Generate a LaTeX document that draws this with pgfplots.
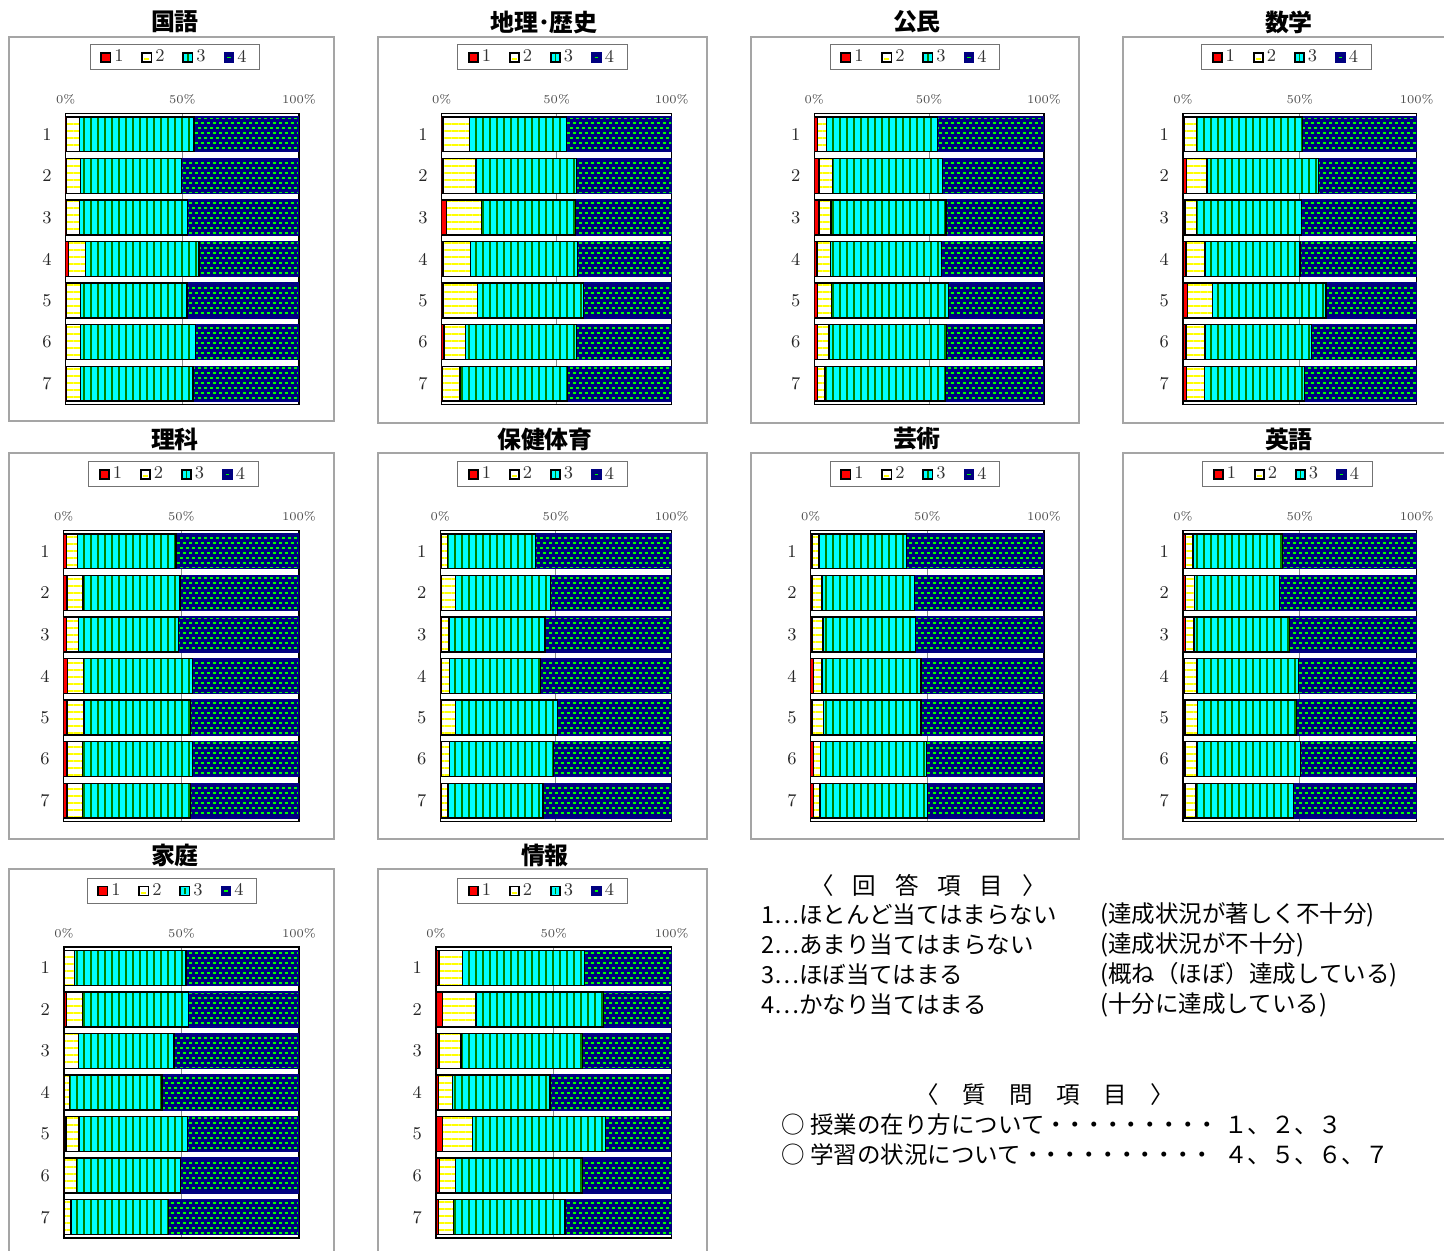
\documentclass[border=0pt]{standalone}
\usepackage{fontspec}
\usepackage{pgfplots}
\pgfplotsset{compat=1.18}
\usepackage{pgfplotstable}
\usetikzlibrary{patterns,patterns.meta}
\newfontfamily\cjk{Noto Sans CJK JP}
\definecolor{navy}{RGB}{0,0,128}
\definecolor{lgreen}{RGB}{0,255,0}
\definecolor{dgreen}{RGB}{0,128,0}
\definecolor{cyanc}{RGB}{0,255,255}
\definecolor{yel}{RGB}{255,255,0}
\definecolor{redc}{RGB}{255,0,0}
\definecolor{framec}{RGB}{165,165,165}

\pgfdeclarepatternformonly{navydash}{\pgfqpoint{-0.5bp}{-0.5bp}}{\pgfqpoint{3.5bp}{5.5bp}}{\pgfqpoint{3bp}{5bp}}{%
  \pgfsetlinewidth{1bp}%
  \pgfpathmoveto{\pgfqpoint{0bp}{1.25bp}}\pgfpathlineto{\pgfqpoint{1.5bp}{1.25bp}}%
  \pgfpathmoveto{\pgfqpoint{1.5bp}{3.75bp}}\pgfpathlineto{\pgfqpoint{3bp}{3.75bp}}%
  \pgfusepath{stroke}}

\newcommand\dt{・\hspace{-.2em}}

\pgfplotsset{
  s1/.style={fill=redc, draw=black, line width=0.7bp},
  s2/.style={preaction={fill=white}, pattern={Lines[angle=0,distance=3.5bp,line width=0.6bp]}, pattern color=yel, draw=black, line width=0.7bp},
  s3/.style={preaction={fill=cyanc}, pattern={Lines[angle=90,distance=3.5bp,line width=0.55bp]}, pattern color=dgreen, draw=black, line width=0.7bp},
  s4/.style={preaction={fill=navy}, pattern=navydash, pattern color=lgreen, draw=navy, line width=0.7bp},
  leg1/.style={legend image code/.code={\draw[fill=redc,draw=black,line width=0.8bp] (0bp,-2.3bp) rectangle (4.6bp,2.3bp);}},
  leg2/.style={legend image code/.code={\draw[fill=white,draw=black,line width=0.8bp] (0bp,-2.3bp) rectangle (4.6bp,2.3bp);\draw[yel,line width=0.8bp] (1bp,-0.9bp) -- (3.6bp,-0.9bp);}},
  leg3/.style={legend image code/.code={\draw[fill=cyanc,draw=black,line width=0.8bp] (0bp,-2.3bp) rectangle (4.6bp,2.3bp);\draw[dgreen,line width=0.8bp] (2.3bp,-1.6bp) -- (2.3bp,1.6bp);}},
  leg4/.style={legend image code/.code={\draw[fill=navy,draw=navy,line width=0.8bp] (0bp,-2.3bp) rectangle (4.6bp,2.3bp);\draw[lgreen,line width=0.8bp] (1.4bp,0bp) -- (3.2bp,0bp);}},
  pan/.style={
    scale only axis, xbar stacked, bar width=0.84,
    xmin=0, xmax=100, ymin=0.5, ymax=7.5,
    xtick={0,50,100}, xticklabels={0\%,50\%,100\%}, xticklabel pos=upper,
    ytick={1,2,3,4,5,6,7}, yticklabels={7,6,5,4,3,2,1},
    major tick length=0pt,
    xmajorgrids, major grid style={black!45, line width=0.5bp},
    axis line style={black, line width=0.6bp},
    x tick label style={font=\fontsize{6}{7}\selectfont, text=black!70, yshift=1bp},
    y tick label style={font=\fontsize{9}{10}\selectfont, text=black!85, xshift=-3.5bp},
    legend columns=4,
    legend style={draw=black!55, line width=0.5bp, font=\fontsize{9}{10}\selectfont, anchor=south,
      inner xsep=5bp, inner ysep=1bp, nodes={inner sep=1.5bp, text=black!80},
      /tikz/every even column/.append style={column sep=7.5bp}},
  },
}

% columns: p = position (7 = question 1), r = 1, w = 2, c = 3, n = 4 (percent)
\pgfplotstableread{
p r w c n
7 0.3 5.6 49.1 45.0
6 0.3 6.1 43.3 50.3
5 0.3 5.6 46.4 47.7
4 1.1 7.3 48.7 42.9
3 0.3 6.0 45.7 48.0
2 0.3 6.0 49.4 44.3
1 0.3 6.0 48.3 45.4
}\tKokugo
\pgfplotstableread{
p r w c n
7 0.5 11.5 42.3 45.7
6 0.5 14.4 43.8 41.3
5 2.2 15.2 40.7 41.9
4 0.5 12.1 46.5 40.9
3 0.5 15.0 46.1 38.4
2 1.0 9.3 48.4 41.3
1 0.3 7.7 46.6 45.4
}\tChireki
\pgfplotstableread{
p r w c n
7 1.5 3.9 48.2 46.4
6 2.0 6.0 47.9 44.1
5 2.0 5.3 50.0 42.7
4 1.2 5.8 48.3 44.7
3 1.3 6.2 51.0 41.5
2 1.3 5.1 51.2 42.4
1 1.3 3.3 52.6 42.8
}\tKomin
\pgfplotstableread{
p r w c n
7 0.5 5.3 45.4 48.8
6 1.6 8.7 47.8 41.9
5 0.8 4.9 45.1 49.2
4 1.3 8.1 40.7 49.9
3 1.9 10.8 48.5 38.8
2 1.3 8.1 45.5 45.1
1 1.6 7.5 42.8 48.1
}\tSugaku
\pgfplotstableread{
p r w c n
7 1.1 4.7 41.9 52.3
6 1.4 6.8 41.2 50.6
5 1.3 4.9 42.5 51.3
4 1.6 6.9 46.2 45.3
3 1.4 7.2 45.2 46.2
2 1.4 6.5 46.9 45.2
1 1.4 6.5 46.1 46.0
}\tRika
\pgfplotstableread{
p r w c n
7 0.5 2.7 38.0 58.8
6 0.5 6.0 41.1 52.4
5 0.3 3.4 41.5 54.8
4 0.3 3.6 39.5 56.6
3 0.3 6.3 44.1 49.3
2 0.3 3.6 44.9 51.2
1 0.3 3.0 41.1 55.6
}\tHoken
\pgfplotstableread{
p r w c n
7 0.5 3.1 37.4 59.0
6 0.5 4.4 39.5 55.6
5 0.5 4.8 39.6 55.1
4 1.1 3.8 42.4 52.7
3 0.5 4.9 41.9 52.7
2 1.3 2.8 45.6 50.3
1 1.1 2.9 46.0 50.0
}\tGeijutsu
\pgfplotstableread{
p r w c n
7 1.0 3.3 38.2 57.5
6 1.0 3.9 36.3 58.8
5 1.0 3.7 40.8 54.5
4 0.5 5.5 43.4 50.6
3 0.8 5.3 42.5 51.4
2 0.8 5.2 44.4 49.6
1 0.8 4.8 41.8 52.6
}\tEigo
\pgfplotstableread{
p r w c n
7 0.3 4.1 47.5 48.1
6 1.0 6.9 45.1 47.0
5 0.3 5.9 40.6 53.2
4 0.3 2.1 39.3 58.3
3 0.8 5.6 46.1 47.5
2 0.3 4.9 44.3 50.5
1 0.3 2.7 41.4 55.6
}\tKatei
\pgfplotstableread{
p r w c n
7 1.3 10.0 51.6 37.1
6 2.8 14.2 54.1 28.9
5 1.3 9.3 51.5 37.9
4 1.0 5.9 41.5 51.6
3 2.7 12.7 56.6 28.0
2 1.4 6.8 54.0 37.8
1 1.1 6.3 47.3 45.3
}\tJoho

% #1 left px, #2 right px, #3 top px, #4 legend centre px, #5 table
\newcommand\panel[5]{%
  \pgfmathsetmacro\pw{(#2-#1)*0.5}%
  \pgfmathsetmacro\lx{(#4-#1)/(#2-#1)}%
  \begin{axis}[pan, at={(#1*0.5bp,-#3*0.5bp)}, anchor=north west,
      width=\pw bp, height=145.5bp,
      legend style={at={(\lx,1)}, yshift=21.5bp}]
    \addplot[s1,leg1] table[x=r,y=p]{#5};
    \addplot[s2,leg2] table[x=w,y=p]{#5};
    \addplot[s3,leg3] table[x=c,y=p]{#5};
    \addplot[s4,leg4] table[x=n,y=p]{#5};
    \legend{1,2,3,4}
  \end{axis}}

\begin{document}
\begin{tikzpicture}
\begin{scope}[x=0.5bp,y=-0.5bp]
  \begin{scope}[draw=framec, line width=0.6bp]
    \draw (9,37) rectangle (334,421);
    \draw (378,37) rectangle (707,423);
    \draw (751,37) rectangle (1079,423);
    \draw (1123,37) rectangle (1448,423);
    \draw (9,453) rectangle (334,839);
    \draw (378,453) rectangle (707,839);
    \draw (751,453) rectangle (1079,839);
    \draw (1123,453) rectangle (1448,839);
    \draw (9,869) rectangle (334,1256);
    \draw (378,869) rectangle (707,1256);
  \end{scope}
  \begin{scope}[every node/.style={font=\cjk\fontsize{12}{14}\selectfont\bfseries, inner sep=0pt}]
    \node at (175,22) {国語};
    \node at (544,22) {地理･歴史};
    \node at (917,22) {公民};
    \node at (1289,22) {数学};
    \node at (175,439) {理科};
    \node at (545,439) {保健体育};
    \node at (917,439) {芸術};
    \node at (1289,439) {英語};
    \node at (175,855) {家庭};
    \node at (545,855) {情報};
  \end{scope}
  \begin{scope}[every node/.style={font=\cjk\fontsize{11.8}{14}\selectfont, inner sep=0pt}]
    \node at (928,885) {〈\hspace{.8em}回\hspace{.8em}答\hspace{.8em}項\hspace{.8em}目\hspace{.8em}〉};
    \node[anchor=west] at (761,915) {1…ほとんど当てはまらない};
    \node[anchor=west] at (761,945) {2…あまり当てはまらない};
    \node[anchor=west] at (761,975) {3…ほぼ当てはまる};
    \node[anchor=west] at (761,1005) {4…かなり当てはまる};
    \node[anchor=west] at (1100,915) {(達成状況が著しく不十分)};
    \node[anchor=west] at (1100,945) {(達成状況が不十分)};
    \node[anchor=west] at (1100,975) {(概ね（ほぼ）達成している)};
    \node[anchor=west] at (1100,1005) {(十分に達成している)};
    \node at (1045,1095) {〈　質　問　項　目　〉};
    \node[anchor=west] at (781,1125) {○ 授業の在り方について\dt\dt\dt\dt\dt\dt\dt\dt\dt};
    \node[anchor=west] at (781,1155) {○ 学習の状況について\dt\dt\dt\dt\dt\dt\dt\dt\dt\dt};
    \node[anchor=west] at (1224,1125) {１、２、３};
    \node[anchor=west] at (1224,1155) {４、５、６、７};
  \end{scope}
\end{scope}

\panel{65.7}{299}{113.5}{175}{\tKokugo}
\panel{441.7}{671.7}{113.5}{542.5}{\tChireki}
\panel{814.3}{1044}{113.5}{915}{\tKomin}
\panel{1183}{1416.7}{113.5}{1286.5}{\tSugaku}
\panel{63.7}{299}{530.5}{173.5}{\tRika}
\panel{440.3}{671.7}{530.5}{542.5}{\tHoken}
\panel{810.7}{1044}{530.5}{915}{\tGeijutsu}
\panel{1183}{1416.7}{530.5}{1287.5}{\tEigo}
\panel{64}{299}{947}{172}{\tKatei}
\panel{436}{671.7}{947}{542.5}{\tJoho}

\pgfresetboundingbox
\path[use as bounding box] (0,0) rectangle (722bp,-625.5bp);
\end{tikzpicture}
\end{document}
